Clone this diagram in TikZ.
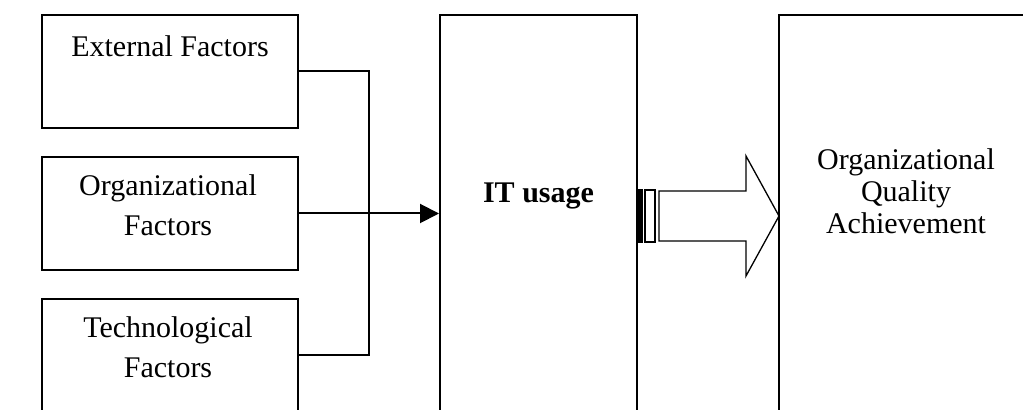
\documentclass[tikz,border=0pt]{standalone}
\usepackage{fontspec}
\setmainfont{Liberation Serif}
\usetikzlibrary{arrows.meta}
\begin{document}
\begin{tikzpicture}[
        x=0.5pt, y=-0.5pt,
        every node/.append style={font=\fontsize{15}{20}\selectfont}
    ]
    \tikzstyle{box}=[draw,line width=1pt,shape=rectangle,inner sep=0pt];
    \tikzstyle{factor}=[box,minimum width=128pt,minimum height=56.5pt];
    \tikzstyle{txt}=[inner sep=0pt,align=center];
    \useasboundingbox (0,0) rectangle (1023,410);
    \clip (0,0) rectangle (1023,410);
    % factors
    \node[factor] (ext) at (170,71.5) {};
    \node[factor] (org) at (170,213.5) {};
    \node[factor] (tech) at (170,355.5) {};
    \node[txt] (extT) at (170,46) {External Factors};
    \node[txt] (orgT) at (168,205.5) {Organizational\\Factors};
    \node[txt] (techT) at (168,347.5) {Technological\\Factors};
    % IT usage
    \node[box,minimum width=98.5pt,minimum height=217.5pt] (it) at (538.5,232.5) {};
    \node[txt,font=\fontsize{15}{20}\selectfont\bfseries] (itT) at (538.5,196) {IT usage};
    % quality
    \node[box,minimum width=140.5pt,minimum height=217.5pt] (qa) at (919.5,232.5) {};
    \node[txt,font=\fontsize{15}{16}\selectfont] (qaT) at (906,191.5) {Organizational\\Quality\\Achievement};
    % connectors
    \coordinate (jn) at (369,213.5);
    \draw[line width=1pt] (ext.east) -| (jn) |- (tech.east);
    \draw[line width=1pt,-{Triangle[length=9.5pt,width=9.5pt]}] (org.east) -- (org.east -| it.west);
    % block arrow
    \fill (637,189) rectangle (643,243);
    \draw[line width=0.65pt] (645,190) rectangle (655,242);
    \draw[line width=0.65pt] (659,191) -- (746,191) -- (746,156) -- (779,216)
        -- (746,276) -- (746,241) -- (659,241) -- cycle;
\end{tikzpicture}
\end{document}
